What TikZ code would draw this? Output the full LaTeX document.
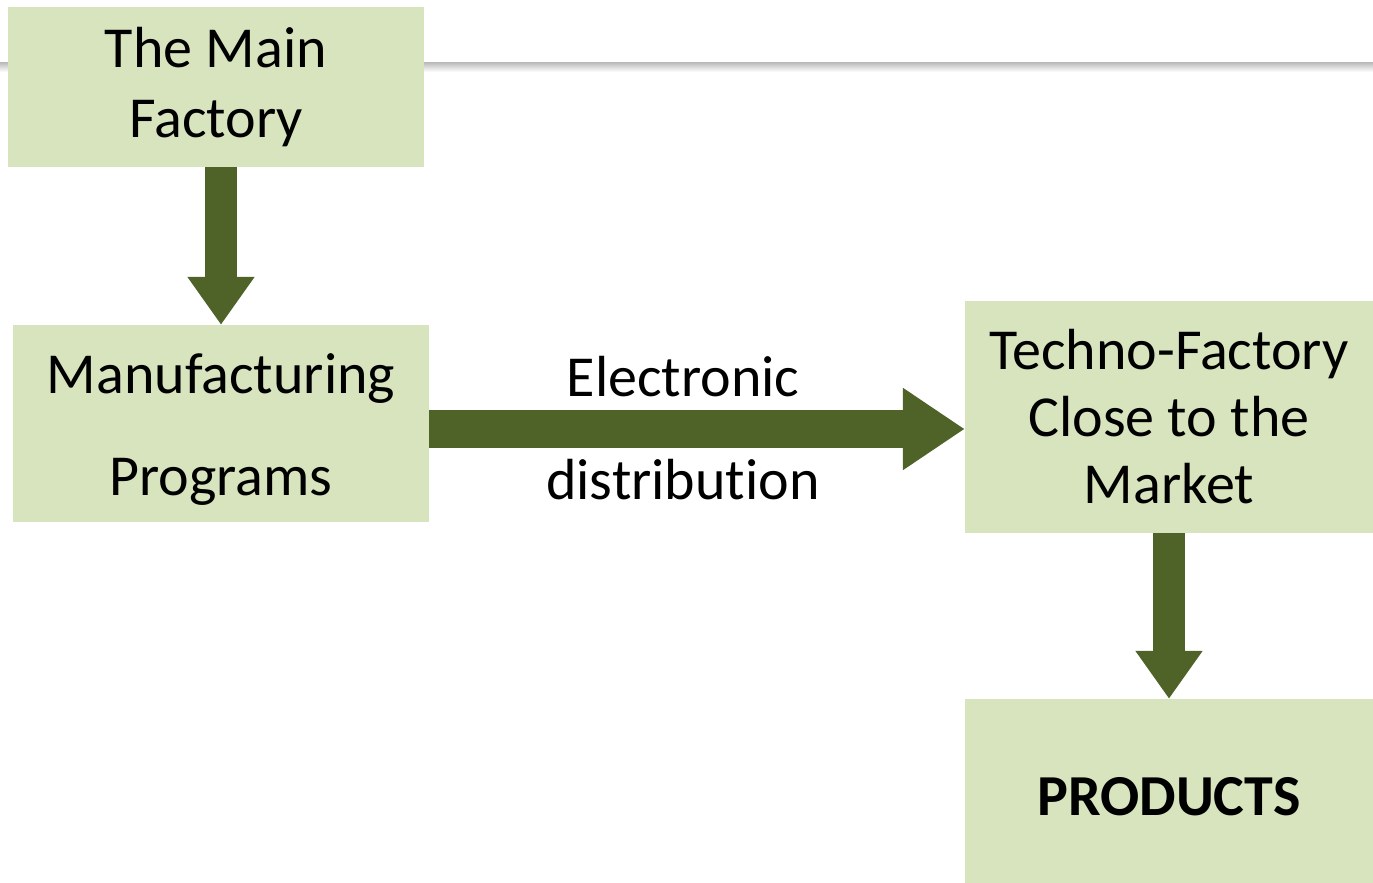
\documentclass[tikz,border=0pt]{standalone}
\usepackage{fontspec}
\setmainfont[Ligatures=NoCommon]{Carlito}
\usetikzlibrary{arrows.meta}
\definecolor{boxgreen}{HTML}{D7E4BD}
\definecolor{arrowgreen}{HTML}{4F6228}
\newcommand{\bigtext}[1]{\fontsize{58}{#1}\selectfont}
\begin{document}
\begin{tikzpicture}
		[x=1pt,y=-1pt,
		every node/.style={fill=boxgreen,inner sep=0pt,align=center,font=\bigtext{70},
			execute at begin node={\spaceskip=0.23em\relax}},
		stagebox/.style={minimum width=#1,text width=#1},
		flow/.style={draw=arrowgreen,line width=32pt,-{Triangle[width=64pt,length=48pt]}},
		plain/.style={fill=none}]
		\useasboundingbox (0,0) rectangle (1373,883);
		% grey rule behind the boxes
		\fill[top color=black!25,bottom color=white] (0,63) rectangle (1373,72);
		\node[stagebox=416pt,minimum height=160pt] (main) at (216,87) {The Main\\Factory};
		\node[stagebox=416pt,minimum height=197pt,text height=52pt,font=\bigtext{102}] (mfg) at (221,423.5) {Manufacturing\\Programs};
		\node[stagebox=408pt,minimum height=232pt,font=\bigtext{67}] (techno) at (1169,417) {Techno-Factory\\Close to the\\Market};
		\node[stagebox=408pt,minimum height=184pt,text height=50pt,font=\bigtext{70}\bfseries] (products) at (1169,791) {PRODUCTS};
		\coordinate (dist) at ([yshift=-5.5pt]mfg.east);
		\draw[flow] (main.south -| mfg) -- (mfg.north);
		\draw[flow,line width=38pt,-{Triangle[width=78pt,length=62pt]}] (dist) -- (dist -| techno.west);
		\draw[flow] (techno.south) -- (products.north);
		\node[plain] (elec) at (683,377) {Electronic};
		\node[plain] (distr) at (683,480) {distribution};
	\end{tikzpicture}
\end{document}
